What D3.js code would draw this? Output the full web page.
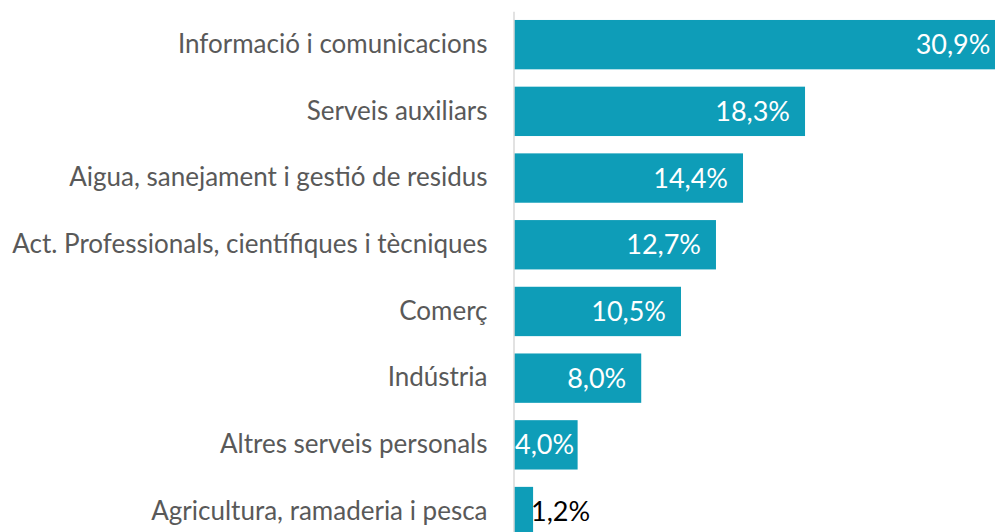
<!DOCTYPE html>
<html>
<head>
<meta charset="utf-8">
<script src="https://cdn.jsdelivr.net/npm/d3@7"></script>
<style>
  body { margin: 0; background: #fff; overflow: hidden; }
  text { font-family: Lato, "Open Sans", sans-serif; }
</style>
</head>
<body>
<svg id="viz"></svg>
<script>
// chart data
const categories = [
  "Informació i comunicacions",
  "Serveis auxiliars",
  "Aigua, sanejament i gestió de residus",
  "Act. Professionals, científiques i tècniques",
  "Comerç",
  "Indústria",
  "Altres serveis personals",
  "Agricultura, ramaderia i pesca"
];
const values = [30.9, 18.3, 14.4, 12.7, 10.5, 8.0, 4.0, 1.2];
const valueLabels = ["30,9%", "18,3%", "14,4%", "12,7%", "10,5%", "8,0%", "4,0%", "1,2%"];

const width = 995, height = 532;
const svg = d3.select("#viz").attr("width", width).attr("height", height);

const x = d3.scaleLinear().domain([0, 31]).range([514, 1007]);
const y = d3.scaleBand().domain(categories).range([11.3, 544.9])
  .paddingInner(0.26).paddingOuter(0.13);

const rows = categories.map((c, i) => ({ cat: c, v: values[i], lab: valueLabels[i] }));

// bars
svg.selectAll("rect.bar").data(rows).enter().append("rect")
  .attr("class", "bar")
  .attr("x", x(0))
  .attr("y", d => y(d.cat))
  .attr("width", d => x(d.v) - x(0))
  .attr("height", y.bandwidth())
  .attr("fill", "#0e9db8");

// category axis (left), no ticks, just the line
const axis = d3.axisLeft(y).tickSize(0).tickPadding(26);
const g = svg.append("g").attr("transform", `translate(${x(0) - 0.5},0)`).call(axis);
g.select(".domain").attr("stroke", "#d9d9d9").attr("stroke-width", 1.5);
g.selectAll("text")
  .attr("font-size", 26)
  .attr("fill", "#595959")
  .style("font-family", "Lato, 'Open Sans', sans-serif");

// value labels
svg.selectAll("text.val").data(rows).enter().append("text")
  .attr("class", "val")
  .attr("y", d => y(d.cat) + y.bandwidth() / 2)
  .attr("dy", "0.35em")
  .attr("font-size", 27)
  .text(d => d.lab)
  .each(function(d) {
    const t = d3.select(this);
    const w = this.getComputedTextLength();
    const end = x(d.v) - 15;
    if (x(d.v) - x(0) < w) {
      // too small: put it outside the bar in black
      t.attr("x", x(d.v) - 2).attr("text-anchor", "start").attr("fill", "#000");
    } else if (end - w < x(0)) {
      t.attr("x", x(0) + 1).attr("text-anchor", "start").attr("fill", "#fff");
    } else {
      t.attr("x", end).attr("text-anchor", "end").attr("fill", "#fff");
    }
  });
</script>
</body>
</html>
